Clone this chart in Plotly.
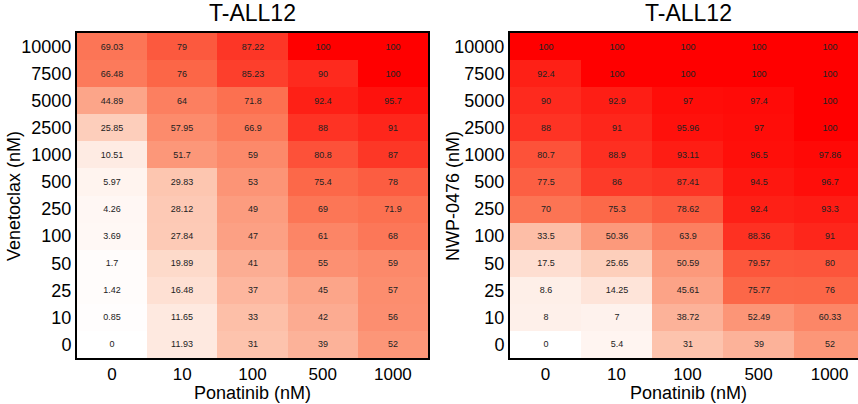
import plotly.graph_objects as go

# Drug concentrations (nM)
ponatinib = ["0", "10", "100", "500", "1000"]
venetoclax = ["0", "10", "25", "50", "100", "250", "500", "1000", "2500", "5000", "7500", "10000"]
nwp0476 = ["0", "10", "25", "50", "100", "250", "500", "1000", "2500", "5000", "7500", "10000"]

# % inhibition, rows listed from the lowest concentration (bottom) upward
ven_pon = [
    [0, 11.93, 31, 39, 52],
    [0.85, 11.65, 33, 42, 56],
    [1.42, 16.48, 37, 45, 57],
    [1.7, 19.89, 41, 55, 59],
    [3.69, 27.84, 47, 61, 68],
    [4.26, 28.12, 49, 69, 71.9],
    [5.97, 29.83, 53, 75.4, 78],
    [10.51, 51.7, 59, 80.8, 87],
    [25.85, 57.95, 66.9, 88, 91],
    [44.89, 64, 71.8, 92.4, 95.7],
    [66.48, 76, 85.23, 90, 100],
    [69.03, 79, 87.22, 100, 100],
]
nwp_pon = [
    [0, 5.4, 31, 39, 52],
    [8, 7, 38.72, 52.49, 60.33],
    [8.6, 14.25, 45.61, 75.77, 76],
    [17.5, 25.65, 50.59, 79.57, 80],
    [33.5, 50.36, 63.9, 88.36, 91],
    [70, 75.3, 78.62, 92.4, 93.3],
    [77.5, 86, 87.41, 94.5, 96.7],
    [80.7, 88.9, 93.11, 96.5, 97.86],
    [88, 91, 95.96, 97, 100],
    [90, 92.9, 97, 97.4, 100],
    [92.4, 100, 100, 100, 100],
    [100, 100, 100, 100, 100],
]

W, H = 858, 404
FONT = "Liberation Sans, Arial, sans-serif"

scale = [
    [0.0, "#ffffff"],
    [0.25, "#fdd0bd"],
    [0.5, "#fc9a7c"],
    [0.75, "#fc6a4a"],
    [1.0, "#ff0000"],
]

fig = go.Figure()
for z, ylabels, xa, ya in [(ven_pon, venetoclax, "x", "y"), (nwp_pon, nwp0476, "x2", "y2")]:
    fig.add_trace(go.Heatmap(
        z=z, x=ponatinib, y=ylabels, xaxis=xa, yaxis=ya,
        colorscale=scale, zmin=0, zmax=100, showscale=False,
        texttemplate="%{z}", textfont=dict(size=9, color="#222222", family=FONT),
        xgap=0, ygap=0, hoverinfo="z",
    ))

px = lambda v: v / W
py = lambda v: 1 - v / H
ydom = [py(358), py(33)]

axis_common = dict(
    type="category", showgrid=False, zeroline=False, ticks="",
    tickfont=dict(size=18, color="black", family=FONT),
    showline=True, linecolor="black", linewidth=2, automargin=False,
)
xtick = dict(size=17, color="black", family=FONT)

fig.update_layout(
    width=W, height=H,
    margin=dict(l=0, r=0, t=0, b=0),
    paper_bgcolor="white", plot_bgcolor="white",
    font=dict(family=FONT, color="black"),
    xaxis=dict(axis_common, domain=[px(77), px(428)], range=[-0.5, 4.5], anchor="y",
               mirror=True, tickfont=xtick),
    yaxis=dict(axis_common, domain=ydom, range=[-0.5, 11.5], anchor="x", mirror=True),
    xaxis2=dict(axis_common, domain=[px(510), 1.0], range=[-0.5, 4.4], anchor="y2",
                mirror=True, tickfont=xtick),
    yaxis2=dict(axis_common, domain=ydom, range=[-0.5, 11.5], anchor="x2", mirror=False),
)

annots = [
    dict(text="T-ALL12", x=px((77 + 428) / 2), y=py(13), size=23, angle=0),
    dict(text="T-ALL12", x=px(688), y=py(13), size=23, angle=0),
    dict(text="Ponatinib (nM)", x=px((77 + 428) / 2), y=py(393), size=18, angle=0),
    dict(text="Ponatinib (nM)", x=px(688), y=py(393), size=18, angle=0),
    dict(text="Venetoclax (nM)", x=px(14), y=py(196), size=18, angle=-90),
    dict(text="NWP-0476 (nM)", x=px(453), y=py(196), size=18, angle=-90),
]
for a in annots:
    fig.add_annotation(
        text=a["text"], x=a["x"], y=a["y"], xref="paper", yref="paper",
        xanchor="center", yanchor="middle", showarrow=False, textangle=a["angle"],
        font=dict(size=a["size"], color="black", family=FONT),
    )

fig.write_html("out.html")
